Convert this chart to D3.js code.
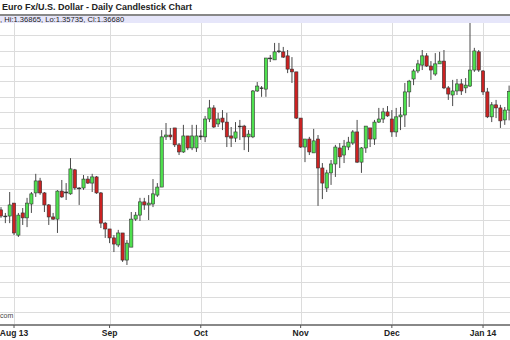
<!DOCTYPE html>
<html><head><meta charset="utf-8">
<script src="https://cdn.jsdelivr.net/npm/d3@7"></script>
<style>body{margin:0;background:#fff}svg{display:block}</style>
</head><body>
<svg id="c" width="510" height="340"></svg>
<script>
const dates = [
"2013-07-29","2013-07-30","2013-07-31",
"2013-08-01","2013-08-02","2013-08-05","2013-08-06","2013-08-07","2013-08-08","2013-08-09","2013-08-12","2013-08-13","2013-08-14","2013-08-15","2013-08-16","2013-08-19","2013-08-20","2013-08-21","2013-08-22","2013-08-23","2013-08-26","2013-08-27","2013-08-28","2013-08-29","2013-08-30",
"2013-09-02","2013-09-03","2013-09-04","2013-09-05","2013-09-06","2013-09-09","2013-09-10","2013-09-11","2013-09-12","2013-09-13","2013-09-16","2013-09-17","2013-09-18","2013-09-19","2013-09-20","2013-09-23","2013-09-24","2013-09-25","2013-09-26","2013-09-27","2013-09-30",
"2013-10-01","2013-10-02","2013-10-03","2013-10-04","2013-10-07","2013-10-08","2013-10-09","2013-10-10","2013-10-11","2013-10-14","2013-10-15","2013-10-16","2013-10-17","2013-10-18","2013-10-21","2013-10-22","2013-10-23","2013-10-24","2013-10-25","2013-10-28","2013-10-29","2013-10-30","2013-10-31",
"2013-11-01","2013-11-04","2013-11-05","2013-11-06","2013-11-07","2013-11-08","2013-11-11","2013-11-12","2013-11-13","2013-11-14","2013-11-15","2013-11-18","2013-11-19","2013-11-20","2013-11-21","2013-11-22","2013-11-25","2013-11-26","2013-11-27","2013-11-28","2013-11-29",
"2013-12-02","2013-12-03","2013-12-04","2013-12-05","2013-12-06","2013-12-09","2013-12-10","2013-12-11","2013-12-12","2013-12-13","2013-12-16","2013-12-17","2013-12-18","2013-12-19","2013-12-20","2013-12-23","2013-12-24","2013-12-26","2013-12-27","2013-12-30","2013-12-31",
"2014-01-02","2014-01-03","2014-01-06","2014-01-07","2014-01-08","2014-01-09","2014-01-10"
];
const openPrices = [
1.3283,1.3263,1.3263,
1.3305,1.3201,1.3273,1.3257,1.3302,1.3338,1.3377,1.3338,1.3299,1.3260,1.3253,1.3344,1.3341,1.3335,1.3413,1.3354,1.3354,1.3383,1.3370,1.3390,1.3338,1.3240,
1.3221,1.3192,1.3169,1.3208,1.3120,1.3162,1.3253,1.3266,1.3309,1.3299,1.3302,1.3331,1.3357,1.3520,1.3526,1.3549,1.3494,1.3471,1.3523,1.3484,1.3484,
1.3520,1.3520,1.3578,1.3614,1.3562,1.3581,1.3568,1.3523,1.3516,1.3555,1.3555,1.3520,1.3520,1.3669,1.3679,1.3675,1.3776,1.3770,1.3799,1.3796,1.3783,1.3740,1.3731,
1.3581,1.3487,1.3513,1.3468,1.3513,1.3419,1.3354,1.3403,1.3432,1.3484,1.3461,1.3487,1.3500,1.3536,1.3438,1.3484,1.3549,1.3513,1.3568,1.3578,1.3601,
1.3578,1.3536,1.3585,1.3591,1.3666,1.3708,1.3734,1.3753,1.3783,1.3750,1.3724,1.3757,1.3766,1.3679,1.3656,1.3669,1.3692,1.3679,1.3685,1.3737,1.3796,
1.3734,1.3666,1.3585,1.3624,1.3614,1.3575,1.3607
];
const highPrices = [
1.3292,1.3273,1.3341,
1.3305,1.3273,1.3289,1.3322,1.3341,1.3400,1.3387,1.3341,1.3302,1.3273,1.3347,1.3380,1.3370,1.3451,1.3416,1.3357,1.3396,1.3393,1.3400,1.3393,1.3341,1.3244,
1.3221,1.3201,1.3218,1.3208,1.3185,1.3276,1.3276,1.3322,1.3322,1.3331,1.3383,1.3370,1.3542,1.3565,1.3549,1.3549,1.3500,1.3559,1.3523,1.3559,1.3559,
1.3542,1.3588,1.3640,1.3623,1.3598,1.3607,1.3598,1.3552,1.3568,1.3575,1.3559,1.3542,1.3672,1.3698,1.3685,1.3776,1.3786,1.3825,1.3825,1.3812,1.3802,1.3779,1.3731,
1.3581,1.3513,1.3520,1.3546,1.3526,1.3435,1.3413,1.3445,1.3494,1.3500,1.3510,1.3520,1.3542,1.3575,1.3487,1.3555,1.3549,1.3575,1.3614,1.3614,1.3620,
1.3607,1.3614,1.3617,1.3695,1.3705,1.3740,1.3770,1.3802,1.3792,1.3766,1.3792,1.3796,1.3802,1.3685,1.3705,1.3708,1.3708,1.3711,1.3890,1.3809,1.3802,
1.3737,1.3679,1.3633,1.3640,1.3624,1.3617,1.36865
];
const lowPrices = [
1.3257,1.3240,1.3240,
1.3201,1.3195,1.3234,1.3227,1.3273,1.3325,1.3332,1.3276,1.3234,1.3250,1.3208,1.3322,1.3315,1.3332,1.3348,1.3299,1.3348,1.3367,1.3341,1.3335,1.3224,1.3192,
1.3175,1.3146,1.3162,1.3114,1.3104,1.3162,1.3247,1.3247,1.3283,1.3250,1.3292,1.3325,1.3357,1.3510,1.3510,1.3487,1.3461,1.3468,1.3477,1.3477,1.3471,
1.3510,1.3503,1.3568,1.3549,1.3552,1.3542,1.3487,1.3487,1.3503,1.3510,1.3477,1.3471,1.3516,1.3666,1.3650,1.3650,1.3763,1.3770,1.3792,1.3776,1.3727,1.3695,1.3578,
1.3484,1.3438,1.3461,1.3468,1.3296,1.3318,1.3341,1.3364,1.3390,1.3419,1.3435,1.3477,1.3494,1.3435,1.3403,1.3468,1.3487,1.3494,1.3565,1.3565,1.3585,
1.3520,1.3520,1.3542,1.3552,1.3617,1.3688,1.3727,1.3737,1.3747,1.3705,1.3718,1.3757,1.3675,1.3640,1.3620,1.3656,1.3656,1.3662,1.3682,1.3731,1.3731,
1.3656,1.3581,1.3568,1.3581,1.3549,1.3559,1.35735
];
const closePrices = [
1.3263,1.3262,1.3299,
1.3208,1.3266,1.3257,1.3305,1.3335,1.3377,1.3338,1.3299,1.3260,1.3253,1.3344,1.3325,1.3338,1.3416,1.3354,1.3352,1.3383,1.3370,1.3390,1.3338,1.3240,1.3221,
1.3192,1.3172,1.3208,1.3120,1.3175,1.3253,1.3266,1.3309,1.3299,1.3305,1.3335,1.3357,1.3520,1.3526,1.3520,1.3494,1.3471,1.3523,1.3484,1.3523,1.3523,
1.3523,1.3578,1.3614,1.3552,1.3578,1.3568,1.3520,1.3516,1.3536,1.3553,1.3520,1.3529,1.3669,1.3685,1.3677,1.3776,1.3774,1.3796,1.3797,1.3779,1.3740,1.3731,1.3581,
1.3487,1.3513,1.3471,1.3507,1.3419,1.3370,1.3403,1.3432,1.3487,1.3455,1.3490,1.3503,1.3536,1.3438,1.3484,1.3555,1.3513,1.3568,1.3578,1.3601,1.3588,
1.3536,1.3585,1.3591,1.3666,1.3701,1.3734,1.3757,1.3783,1.3750,1.3737,1.3757,1.3766,1.3679,1.3659,1.3669,1.3692,1.3669,1.3688,1.3737,1.3799,1.3737,
1.3666,1.3585,1.3624,1.3614,1.3572,1.3607,1.3668
];
const monthTicks = ["2013-08-01","2013-09-02","2013-10-01","2013-11-01","2013-12-02","2014-01-02"];
const monthLabels = ["Aug 13","Sep","Oct","Nov","Dec","Jan 14"];
const gridPrices = [1.295,1.300,1.305,1.310,1.315,1.320,1.325,1.330,1.335,1.340,1.345,1.350,1.355,1.360,1.365,1.370,1.375,1.380,1.385];
const titleText = "Euro Fx/U.S. Dollar - Daily Candlestick Chart";
const infoText = ", Hi:1.36865, Lo:1.35735, Cl:1.36680";
const sourceText = "com";

const W = 510, H = 340, plotTop = 23, plotBottom = 325;
const svg = d3.select("#c");
svg.append("rect").attr("width", W).attr("height", H).attr("fill", "#fff");

const x = d3.scaleBand().domain(dates).range([-1.17, 511.27]).padding(0);
const cx = d => x(d) + x.bandwidth() / 2;
const y = d3.scaleLinear().domain([1.295, 1.385]).range([312.43, 35.23]);

const candles = dates.map((d, i) => ({d, o: openPrices[i], h: highPrices[i], l: lowPrices[i], c: closePrices[i]}));

// grid
const grid = svg.append("g");
grid.selectAll("line.h").data(gridPrices).join("line").attr("class","h")
  .attr("x1", 0).attr("x2", W)
  .attr("y1", d => Math.round(y(d)) + 0.5).attr("y2", d => Math.round(y(d)) + 0.5)
  .attr("stroke", "#dcdcdc").attr("stroke-width", 1);
grid.selectAll("line.v").data(monthTicks).join("line").attr("class","v")
  .attr("x1", d => Math.round(cx(d)) + 0.5).attr("x2", d => Math.round(cx(d)) + 0.5)
  .attr("y1", plotTop).attr("y2", plotBottom)
  .attr("stroke", "#dcdcdc").attr("stroke-width", 1);

// candles
const bw = 3.2;
const cg = svg.append("g");
cg.selectAll("line.wick").data(candles).join("line").attr("class","wick")
  .attr("x1", d => cx(d.d)).attr("x2", d => cx(d.d))
  .attr("y1", d => y(d.h)).attr("y2", d => y(d.l))
  .attr("stroke", "#4a4a4a").attr("stroke-width", 1);
cg.selectAll("rect.body").data(candles).join("rect").attr("class","body")
  .attr("x", d => cx(d.d) - bw / 2).attr("width", bw)
  .attr("y", d => Math.min(y(d.o), y(d.c)))
  .attr("height", d => Math.max(0.8, Math.abs(y(d.o) - y(d.c))))
  .attr("fill", d => Math.abs(y(d.o) - y(d.c)) < 1.2 ? "#333" : (d.c >= d.o ? "#4ee04e" : "#cc2222"))
  .attr("stroke", "#333").attr("stroke-width", 0.6);

// axis
const ax = svg.append("g").attr("transform", `translate(0,${plotBottom})`)
  .call(d3.axisBottom(x).tickValues(monthTicks).tickSize(3).tickSizeOuter(0).tickPadding(1.5)
    .tickFormat((d, i) => monthLabels[i]));
ax.select(".domain").remove();
ax.insert("line", ":first-child").attr("x1", 0).attr("x2", W).attr("y1", 0).attr("y2", 0)
  .attr("stroke", "#888").attr("stroke-width", 2);
ax.selectAll(".tick line").attr("stroke", "#555");
ax.selectAll(".tick text").attr("font-family", "'Liberation Sans', Arial, sans-serif")
  .attr("font-weight", "bold").attr("font-size", "8.5px").attr("fill", "#222");

// source text
svg.append("text").attr("x", 0).attr("y", 318).text(sourceText)
  .attr("font-family", "'Liberation Sans', Arial, sans-serif").attr("font-size", "7px").attr("fill", "#444");

// header
svg.append("rect").attr("x", 0).attr("y", 16).attr("width", W).attr("height", 7).attr("fill", "#e6e6fa");
svg.append("line").attr("x1", 0).attr("x2", W).attr("y1", 15).attr("y2", 15).attr("stroke", "#888").attr("stroke-width", 2);
svg.append("text").attr("x", 0).attr("y", 22).text(infoText)
  .attr("font-family", "'Liberation Sans', Arial, sans-serif").attr("font-size", "7.6px").attr("fill", "#222");
svg.append("text").attr("x", 2).attr("y", 10).text(titleText)
  .attr("font-family", "'Liberation Sans', Arial, sans-serif").attr("font-weight", "bold")
  .attr("font-size", "9px").attr("fill", "#222");
</script>
</body></html>
